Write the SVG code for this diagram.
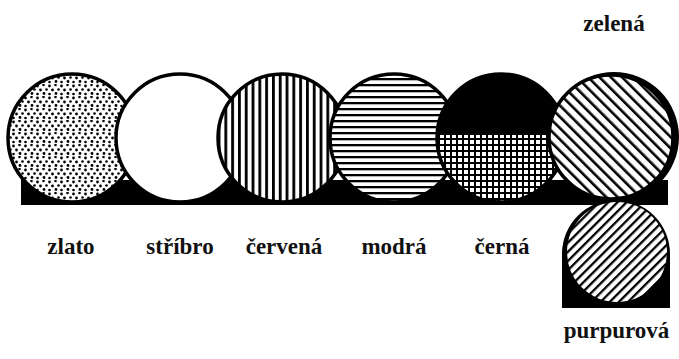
<svg xmlns="http://www.w3.org/2000/svg" width="679" height="359" viewBox="0 0 679 359">
<style>
.lbl{font-family:"Liberation Serif","DejaVu Serif",serif;font-weight:bold;font-size:23px;fill:#111;text-anchor:middle}
.ring{stroke:#000;stroke-width:3.5}
</style>
<defs>
<pattern id="dots" width="12" height="12" patternUnits="userSpaceOnUse">
<rect width="12" height="12" fill="#fff"/>
<circle cx="1.5" cy="2" r="1.4" fill="#000"/>
<circle cx="7.5" cy="1" r="1.3" fill="#000"/>
<circle cx="4.5" cy="6" r="1.4" fill="#000"/>
<circle cx="10.5" cy="5.5" r="1.3" fill="#000"/>
<circle cx="1.5" cy="10" r="1.3" fill="#000"/>
<circle cx="8" cy="9.5" r="1.4" fill="#000"/>
</pattern>
<pattern id="vert" width="6.8" height="10" patternUnits="userSpaceOnUse">
<rect width="6.8" height="10" fill="#fff"/>
<rect x="0" y="0" width="2.8" height="10" fill="#000"/>
</pattern>
<pattern id="horiz" width="10" height="6" patternUnits="userSpaceOnUse">
<rect width="10" height="6" fill="#fff"/>
<rect x="0" y="0" width="10" height="2.3" fill="#000"/>
</pattern>
<pattern id="grid" width="6" height="6" patternUnits="userSpaceOnUse">
<rect width="6" height="6" fill="#000"/>
<rect x="2" y="2" width="4" height="4" fill="#fff"/>
</pattern>
<pattern id="diagB" width="8" height="8" patternUnits="userSpaceOnUse" patternTransform="rotate(-45)">
<rect width="8" height="8" fill="#fff"/>
<rect x="0" y="0" width="2.6" height="8" fill="#000"/>
</pattern>
<pattern id="diagF" width="6.5" height="8" patternUnits="userSpaceOnUse" patternTransform="rotate(45)">
<rect width="6.5" height="8" fill="#fff"/>
<rect x="0" y="0" width="2.3" height="8" fill="#000"/>
</pattern>
<clipPath id="topHalf"><rect x="430" y="60" width="150" height="75"/></clipPath>
</defs>

<g id="base">
<rect x="21" y="180" width="647" height="25" fill="#000"/>
</g>

<g id="zlato">
<circle class="ring" cx="72" cy="138" r="64" fill="url(#dots)"/>
<text class="lbl" x="71" y="254">zlato</text>
</g>

<g id="stribro">
<circle class="ring" cx="180" cy="138" r="64" fill="#fff"/>
<text class="lbl" x="180" y="254">stříbro</text>
</g>

<g id="cervena">
<circle class="ring" cx="282" cy="138" r="64" fill="url(#vert)"/>
<text class="lbl" x="284" y="254">červená</text>
</g>

<g id="modra">
<circle class="ring" cx="394" cy="138" r="64" fill="url(#horiz)"/>
<text class="lbl" x="394" y="254">modrá</text>
</g>

<g id="cerna">
<circle class="ring" cx="501" cy="138" r="64" fill="url(#grid)"/>
<circle cx="501" cy="138" r="64" fill="#000" clip-path="url(#topHalf)"/>
<text class="lbl" x="502" y="254">černá</text>
</g>

<g id="zelena">
<circle cx="614" cy="137" r="65" fill="#000"/>
<circle class="ring" cx="611" cy="137" r="62" fill="url(#diagB)"/>
<text class="lbl" x="614" y="31">zelená</text>
</g>

<g id="purpurova">
<rect x="562" y="254" width="108" height="54" fill="#000"/>
<circle cx="616" cy="254" r="54" fill="#000"/>
<circle cx="617" cy="252" r="50" fill="url(#diagF)"/>
<text class="lbl" x="616.5" y="338">purpurová</text>
</g>

<g id="connectors"></g>
</svg>
